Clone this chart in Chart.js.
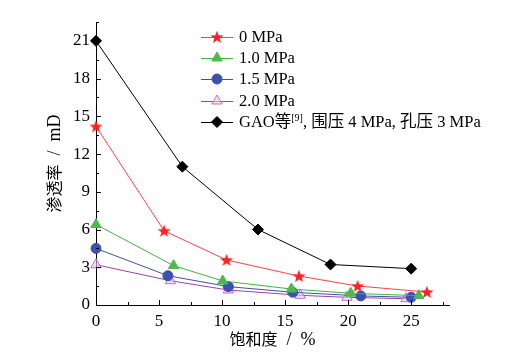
<!DOCTYPE html>
<html>
<head>
<meta charset="utf-8">
<script src="https://cdn.jsdelivr.net/npm/chart.js@4.4.1/dist/chart.umd.min.js"></script>
<style>
  html, body { margin: 0; padding: 0; background: #fff; }
  #wrap { width: 518px; height: 354px; }
</style>
</head>
<body>
<div id="wrap"><canvas id="permChart" width="518" height="354"></canvas></div>
<script>
// saturation (%) and permeability (mD)
const satZero = [0, 5.4, 10.35, 16.1, 20.75, 26.25];
const permZero = [14.2, 5.9, 3.58, 2.3, 1.51, 1.03];

const satOne = [0, 6.15, 10.05, 15.5, 20.2, 25.6];
const permOne = [6.4, 3.13, 1.91, 1.27, 0.93, 0.74];

const satOneFive = [0, 5.7, 10.5, 15.6, 21.0, 25.0];
const permOneFive = [4.5, 2.33, 1.46, 1.01, 0.72, 0.61];

const satTwo = [0, 5.9, 10.5, 16.2, 19.9, 24.6];
const permTwo = [3.2, 1.93, 1.19, 0.77, 0.61, 0.5];

const satGao = [0, 6.85, 12.85, 18.6, 25.0];
const permGao = [21.0, 11.0, 6.0, 3.22, 2.89];

const seriesLabels = ['0 MPa', '1.0 MPa', '1.5 MPa', '2.0 MPa', 'GAO等[9], 围压 4 MPa, 孔压 3 MPa'];
const xTicks = [0, 5, 10, 15, 20, 25];
const yTicks = [0, 3, 6, 9, 12, 15, 18, 21];
const xTitle = [['饱和度', 'cjk'], ['  /  ', 'lat'], ['%', 'lat']];
const yTitle = [['渗透率', 'cjk'], ['  /  ', 'lat'], ['mD', 'lat']];

const serif = "'Liberation Serif', 'Times New Roman', 'Noto Sans CJK SC', serif";
const cjk = "'Noto Sans CJK SC', 'Noto Sans CJK JP', sans-serif";

function toPoints(xs, ys) {
    return xs.map((x, i) => ({ x: x, y: ys[i] }));
}

// filled star marker (Chart.js 'star' is only an asterisk)
function makeStar(color, r) {
    const c = document.createElement('canvas');
    const size = Math.ceil(r * 2 + 2);
    c.width = size;
    c.height = size;
    const g = c.getContext('2d');
    const cx = size / 2, cy = size / 2 + 0.5;
    g.beginPath();
    for (let i = 0; i < 10; i++) {
        const rr = i % 2 === 0 ? r : r * 0.42;
        const a = -Math.PI / 2 + i * Math.PI / 5;
        g.lineTo(cx + rr * Math.cos(a), cy + rr * Math.sin(a));
    }
    g.closePath();
    g.fillStyle = color;
    g.fill();
    return c;
}
const starImg = makeStar('#f22', 6.8);

// inward major / minor tick marks like the original plot
const innerTicks = {
    id: 'innerTicks',
    afterDraw(chart) {
        const ctx = chart.ctx;
        const xs = chart.scales.x, ys = chart.scales.y;
        const area = chart.chartArea;
        ctx.save();
        ctx.strokeStyle = '#000';
        ctx.lineWidth = 1;
        ctx.beginPath();
        for (let v = 0; v <= 27.5; v += 2.5) {
            const px = Math.round(xs.getPixelForValue(v)) + 0.5;
            const len = v % 5 === 0 ? 5 : 3;
            ctx.moveTo(px, area.bottom);
            ctx.lineTo(px, area.bottom - len);
        }
        for (let v = 0; v <= 22.5; v += 1.5) {
            const py = Math.round(ys.getPixelForValue(v)) + 0.5;
            const len = v % 3 === 0 ? 5 : 3;
            ctx.moveTo(area.left, py);
            ctx.lineTo(area.left + len, py);
        }
        ctx.stroke();
        ctx.restore();
    }
};

// axis titles: CJK glyphs plus a slightly larger latin part
function drawRuns(ctx, runs, cx, cy) {
    const fonts = { cjk: '16px ' + cjk, lat: '18px ' + serif };
    let total = 0;
    runs.forEach(r => { ctx.font = fonts[r[1]]; total += ctx.measureText(r[0]).width; });
    let x = cx - total / 2;
    ctx.textAlign = 'left';
    ctx.textBaseline = 'alphabetic';
    runs.forEach(r => {
        ctx.font = fonts[r[1]];
        ctx.fillText(r[0], x, cy + 6);
        x += ctx.measureText(r[0]).width;
    });
}
const axisTitles = {
    id: 'axisTitles',
    afterDraw(chart) {
        const ctx = chart.ctx;
        const area = chart.chartArea;
        ctx.save();
        ctx.fillStyle = '#000';
        drawRuns(ctx, xTitle, (area.left + area.right) / 2, 339);
        ctx.translate(54, (area.top + area.bottom) / 2);
        ctx.rotate(-Math.PI / 2);
        drawRuns(ctx, yTitle, 0, 0);
        ctx.restore();
    }
};

// legend drawn inside the plot area
const innerLegend = {
    id: 'innerLegend',
    afterDraw(chart) {
        const ctx = chart.ctx;
        const x0 = 201, x1 = 233, tx = 239;
        const y0 = 37, dy = 21.2;
        const lat = '16.5px ' + serif;
        ctx.save();
        chart.data.datasets.forEach((ds, i) => {
            const y = Math.round(y0 + i * dy);
            ctx.strokeStyle = ds.borderColor;
            ctx.lineWidth = 1;
            ctx.beginPath();
            ctx.moveTo(x0, y + 0.5);
            ctx.lineTo(x1, y + 0.5);
            ctx.stroke();
            ctx.fillStyle = ds.pointBackgroundColor;
            ctx.strokeStyle = ds.pointBorderColor;
            ctx.lineWidth = ds.pointBorderWidth;
            Chart.helpers.drawPoint(ctx, {
                pointStyle: ds.pointStyle,
                radius: ds.pointRadius,
                rotation: 0,
                borderWidth: ds.pointBorderWidth
            }, (x0 + x1) / 2, y);
            ctx.fillStyle = '#000';
            ctx.textBaseline = 'middle';
            ctx.textAlign = 'left';
            ctx.font = lat;
            const label = ds.label;
            const m = label.match(/^(.*?)\[(\d+)\](.*)$/);
            if (m) {
                ctx.fillText(m[1], tx, y + 1);
                let w = ctx.measureText(m[1]).width;
                ctx.font = '10px ' + serif;
                ctx.fillText('[' + m[2] + ']', tx + w, y - 4);
                w += ctx.measureText('[' + m[2] + ']').width;
                ctx.font = lat;
                ctx.fillText(m[3], tx + w, y + 1);
            } else {
                ctx.fillText(label, tx, y + 1);
            }
        });
        ctx.restore();
    }
};

const ctxPerm = document.getElementById('permChart').getContext('2d');
const permChart = new Chart(ctxPerm, {
    type: 'line',
    data: {
        datasets: [{
            label: seriesLabels[0],
            data: toPoints(satZero, permZero),
            borderColor: '#f44',
            pointStyle: starImg,
            pointRadius: 6.8,
            pointBackgroundColor: '#f22',
            pointBorderColor: '#f22',
            pointBorderWidth: 0
        }, {
            label: seriesLabels[1],
            data: toPoints(satOne, permOne),
            borderColor: '#44b044',
            pointStyle: 'triangle',
            pointRadius: 6,
            pointBackgroundColor: '#4cbb4c',
            pointBorderColor: '#4cbb4c',
            pointBorderWidth: 1
        }, {
            label: seriesLabels[2],
            data: toPoints(satOneFive, permOneFive),
            borderColor: '#4050a8',
            pointStyle: 'circle',
            pointRadius: 5,
            pointBackgroundColor: '#3c50b0',
            pointBorderColor: '#3c50b0',
            pointBorderWidth: 1
        }, {
            label: seriesLabels[3],
            data: toPoints(satTwo, permTwo),
            borderColor: '#a040a0',
            pointStyle: 'triangle',
            pointRadius: 6,
            pointBackgroundColor: 'rgba(240,200,240,0.6)',
            pointBorderColor: '#c070c8',
            pointBorderWidth: 1
        }, {
            label: seriesLabels[4],
            data: toPoints(satGao, permGao),
            borderColor: '#000',
            pointStyle: 'rectRot',
            pointRadius: 5.5,
            pointBackgroundColor: '#000',
            pointBorderColor: '#000',
            pointBorderWidth: 1
        }]
    },
    options: {
        responsive: false,
        animation: false,
        clip: false,
        elements: { line: { borderWidth: 1, tension: 0 } },
        layout: { padding: { left: 0, right: 69, top: 22, bottom: 0 } },
        plugins: { legend: { display: false }, tooltip: { enabled: false } },
        scales: {
            x: {
                type: 'linear',
                min: 0,
                max: 28,
                afterBuildTicks: (s) => { s.ticks = xTicks.map(v => ({ value: v })); },
                afterFit: (s) => { s.height = 49; },
                grid: { display: false, drawTicks: false },
                border: { display: true, color: '#000', width: 1 },
                ticks: { color: '#000', padding: 6, font: { family: serif, size: 17 }, maxRotation: 0 },
                title: { display: false }
            },
            y: {
                type: 'linear',
                min: 0,
                max: 22.5,
                afterBuildTicks: (s) => { s.ticks = yTicks.map(v => ({ value: v })); },
                afterFit: (s) => { s.width = 96; },
                grid: { display: false, drawTicks: false },
                border: { display: true, color: '#000', width: 1 },
                ticks: { color: '#000', padding: 6, font: { family: serif, size: 17 } },
                title: { display: false }
            }
        }
    },
    plugins: [innerTicks, axisTitles, innerLegend]
});
</script>
</body>
</html>
